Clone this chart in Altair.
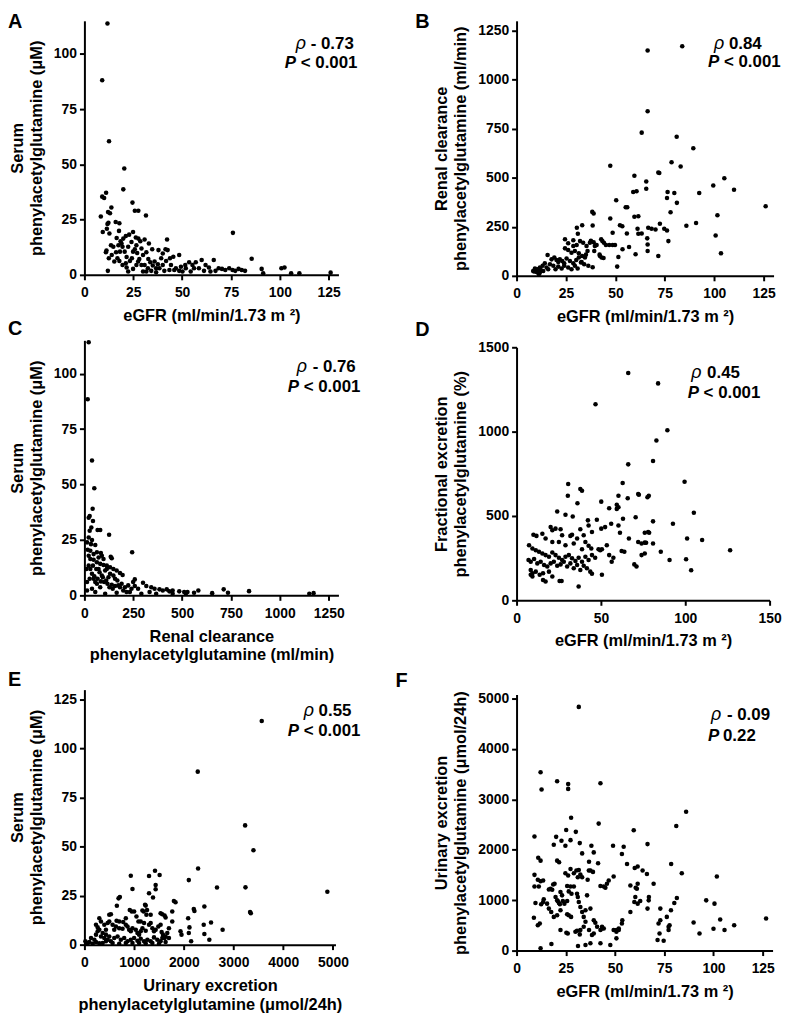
import altair as alt
import pandas as pd

FONT = "Liberation Sans"

# ---------------- Panel A: eGFR vs serum phenylacetylglutamine
A_EGFR = [11.8, 9.1, 12.6, 20.4, 19.9, 9.1, 10.1, 11.1, 24.6, 25.8, 27.6, 31.5, 13.8, 12.1, 13.1, 8.4, 12.3, 11.8, 16.0, 17.9,
          9.4, 12.8, 11.5, 17.7, 16.5, 18.5, 19.9, 21.2, 22.9, 24.9, 26.3, 27.6, 28.6, 30.8, 33.0, 34.7, 37.9, 42.3, 41.5, 42.6,
          11.0, 11.3, 13.6, 14.8, 16.2, 15.3, 17.9, 19.5, 20.6, 21.6, 23.3, 24.3, 24.9, 25.8, 27.0, 28.1, 29.2, 30.0, 31.7, 32.7,
          33.7, 35.0, 36.7, 38.4, 40.1, 41.8, 43.8, 45.5, 48.5, 12.0, 22.4, 24.9, 30.0, 36.7, 40.9, 43.5, 46.8, 49.4, 51.6, 53.6,
          55.3, 57.0, 58.6, 60.0, 62.0, 63.7, 66.2, 64.5, 68.7, 70.4, 72.1, 74.1, 75.8, 77.2, 78.9, 80.5, 82.2, 85.6, 90.7, 91.5,
          100.8, 102.4, 105.8, 110.0, 126.0, 76.0, 17.4, 19.0, 22.4, 24.1, 26.6, 29.2, 30.8, 32.5, 34.2, 35.9, 39.3, 40.1, 44.3, 46.0,
          50.2, 51.9, 54.4, 56.1, 61.2, 67.1, 16.9, 19.5, 21.2, 26.6, 27.5, 18.2, 14.0, 12.5, 21.6, 31.7, 37.6, 48.5]
A_SERUM = [113.8, 88.1, 60.5, 48.1, 38.7, 35.4, 34.8, 37.2, 32.7, 29.0, 29.0, 26.9, 30.5, 28.4, 27.9, 26.4, 23.6, 23.0, 23.9, 23.4,
           19.4, 18.7, 20.9, 19.9, 16.7, 15.2, 16.4, 17.6, 18.2, 19.4, 16.9, 16.4, 15.2, 16.0, 14.2, 11.6, 11.2, 16.0, 11.6, 11.2,
           10.2, 11.0, 13.4, 12.7, 10.2, 6.0, 6.3, 12.7, 10.5, 8.1, 6.3, 7.5, 10.5, 11.6, 9.9, 7.2, 4.5, 9.0, 10.2, 7.2,
           5.7, 4.2, 3.0, 3.0, 4.5, 6.3, 7.5, 8.2, 9.0, 1.8, 1.5, 2.7, 1.5, 1.2, 1.8, 2.2, 3.0, 3.7, 4.5, 5.7,
           4.5, 5.7, 3.0, 6.7, 4.5, 3.3, 6.7, 1.5, 3.0, 2.7, 2.2, 3.0, 2.2, 1.8, 2.7, 2.2, 1.8, 7.3, 2.7, 0.7,
           3.0, 3.3, 0.7, 0.7, 1.0, 19.0, 13.4, 14.2, 12.7, 14.9, 13.4, 11.9, 4.5, 3.0, 1.8, 6.0, 7.5, 9.7, 4.5, 2.2,
           1.5, 3.0, 1.5, 3.0, 1.8, 1.8, 7.5, 4.5, 5.2, 4.5, 6.0, 10.5, 9.0, 7.5, 3.3, 1.5, 4.8, 1.8]

# ---------------- Panel B: eGFR vs renal clearance
B_EGFR = [66.3, 83.8, 66.3, 63.3, 81.0, 89.4, 47.4, 78.4, 83.0, 71.7, 72.2, 59.6, 65.6, 65.6, 105.1, 99.5, 110.0, 92.4, 76.4, 79.8,
          59.0, 60.7, 76.1, 81.1, 50.4, 55.2, 56.0, 126.0, 77.9, 59.6, 61.6, 38.3, 39.0, 101.6, 47.4, 52.3, 53.5, 72.5, 85.9, 90.8,
          33.2, 38.5, 68.3, 70.3, 74.7, 76.1, 61.2, 66.6, 48.6, 55.8, 63.3, 61.6, 66.1, 66.3, 66.3, 76.8, 100.7, 103.4, 60.2, 71.7,
          50.9, 51.5, 53.6, 56.9, 45.2, 46.9, 48.6, 49.8, 42.8, 43.4, 44.2, 37.1, 37.6, 39.0, 39.6, 40.5, 39.3, 42.0, 42.2, 44.0,
          43.0, 35.9, 34.6, 36.3, 38.5, 30.5, 31.0, 28.7, 24.5, 26.1, 28.7, 30.4, 32.1, 33.7, 35.4, 24.5, 26.1, 27.8, 29.5, 31.5,
          33.2, 35.1, 15.7, 17.7, 19.1, 20.2, 21.1, 21.9, 23.1, 24.1, 25.3, 27.0, 28.7, 30.2, 31.5, 32.9, 34.2, 14.3, 13.2, 11.8,
          10.6, 9.3, 8.4, 10.1, 11.8, 13.5, 15.2, 16.0, 16.9, 18.6, 19.7, 21.1, 22.8, 24.1, 26.1, 27.8, 29.5, 30.9, 32.6, 8.9,
          11.3, 12.3]
B_CLEAR = [1149, 1170, 839, 730, 709, 650, 561, 579, 557, 527, 524, 510, 481, 444, 497, 461, 439, 422, 427, 422,
           427, 431, 397, 372, 385, 350, 350, 355, 324, 301, 304, 326, 318, 309, 292, 258, 253, 265, 255, 269,
           258, 257, 240, 236, 240, 231, 240, 245, 220, 216, 216, 215, 191, 160, 127, 177, 206, 115, 110, 101,
           47, 96, 135, 147, 157, 157, 157, 157, 186, 177, 169, 169, 179, 171, 152, 157, 127, 108, 101, 91,
           93, 127, 93, 51, 44, 245, 215, 181, 186, 166, 152, 157, 177, 169, 152, 140, 132, 118, 127, 115,
           101, 108, 106, 84, 93, 81, 71, 84, 76, 64, 88, 76, 64, 81, 93, 71, 59, 64, 51, 42,
           34, 37, 25, 20, 17, 25, 42, 34, 59, 51, 34, 47, 37, 51, 42, 34, 51, 37, 68, 22,
           8, 30]

# ---------------- Panel C: renal clearance vs serum phenylacetylglutamine
C_CLEAR = [21.9, 16.9, 38.8, 50.6, 42.1, 27.0, 21.9, 43.8, 35.4, 27.0, 67.4, 80.9, 126.4, 21.9, 38.8, 33.7, 55.6, 244.3, 13.5, 16.9,
           30.3, 47.2, 64.0, 84.3, 72.5, 89.3, 134.8, 139.9, 47.2, 64.0, 80.9, 97.7, 114.6, 131.4, 148.3, 165.1, 182.0, 195.5, 60.7, 77.5,
           30.3, 38.8, 50.6, 67.4, 84.3, 101.1, 118.0, 139.9, 156.7, 173.6, 190.4, 207.3, 224.1, 241.0, 257.8, 257.8, 274.7, 299.9, 316.8, 342.1,
           358.9, 384.2, 401.0, 421.3, 434.7, 451.6, 485.3, 510.6, 527.4, 561.1, 583.0, 653.8, 712.8, 734.7, 842.5, 1150.9, 1172.8, 13.5, 55.6, 106.2,
           165.1, 215.7, 291.5, 333.6, 367.3, 451.6, 519.0, 13.5, 27.0, 10.1, 21.9, 43.8, 55.6, 89.3, 123.0, 131.4, 156.7, 72.5, 106.2, 94.4,
           111.2, 128.1, 144.9, 80.9, 64.0, 38.8, 47.2, 30.3, 21.9, 97.7, 114.6, 148.3, 168.5, 182.0, 198.8, 232.5, 249.4]
C_SERUM = [114.1, 88.4, 60.8, 48.3, 39.1, 35.8, 35.0, 33.5, 30.6, 29.1, 29.5, 29.5, 27.3, 26.1, 25.0, 23.1, 22.7, 19.4, 23.9, 20.6,
           20.1, 18.6, 19.4, 19.1, 17.1, 17.9, 17.4, 16.7, 16.1, 14.9, 14.2, 13.7, 13.4, 12.7, 11.9, 11.2, 10.1, 9.2, 11.9, 10.4,
           11.9, 9.7, 8.6, 7.5, 6.3, 6.0, 5.2, 4.8, 4.2, 4.5, 5.2, 3.7, 4.5, 3.0, 7.2, 4.2, 3.0, 5.7, 4.2, 3.7,
           3.0, 2.7, 2.2, 2.7, 1.8, 2.2, 1.8, 1.5, 1.5, 1.2, 2.2, 1.0, 2.7, 1.2, 1.9, 0.7, 1.0, 2.2, 1.5, 0.7,
           1.2, 1.5, 0.7, 1.5, 0.7, 0.7, 0.7, 6.0, 7.5, 11.9, 13.4, 13.4, 6.0, 8.9, 8.2, 9.7, 7.5, 11.9, 11.2, 8.2,
           6.7, 3.7, 3.0, 3.7, 5.2, 3.0, 7.5, 16.4, 17.9, 16.4, 11.9, 8.9, 6.7, 3.7, 2.2, 1.5, 6.0]

# ---------------- Panel D: eGFR vs fractional excretion
D_EGFR = [66.2, 83.9, 46.8, 89.4, 82.9, 80.9, 66.2, 99.6, 62.9, 30.6, 37.8, 38.8, 72.1, 72.5, 60.4, 65.9, 77.6, 78.4, 30.4, 50.2,
          36.1, 54.9, 59.4, 59.4, 60.4, 24.1, 29.0, 33.3, 42.3, 47.6, 63.1, 70.6, 80.9, 92.7, 105.1, 60.4, 56.1, 52.5, 50.2, 61.3,
          66.6, 72.1, 74.1, 76.0, 78.0, 78.6, 76.0, 76.8, 15.3, 20.2, 21.2, 23.1, 26.1, 27.0, 31.9, 32.9, 35.9, 37.8, 39.8, 42.7,
          44.7, 48.6, 49.6, 50.6, 53.5, 54.9, 10.0, 11.8, 17.2, 21.2, 25.1, 29.0, 33.9, 40.8, 42.7, 44.3, 38.8, 7.4, 9.4, 11.4,
          13.3, 15.3, 17.2, 19.2, 21.2, 23.1, 25.1, 27.0, 29.0, 31.0, 32.9, 34.9, 36.8, 38.8, 40.8, 42.7, 44.7, 46.6, 7.1, 8.4,
          10.4, 12.3, 14.3, 16.3, 18.2, 20.2, 22.1, 24.1, 26.1, 28.0, 30.0, 31.9, 33.9, 35.9, 37.8, 39.8, 41.7, 43.7, 8.4, 9.4,
          11.4, 13.7, 15.7, 19.2, 21.2, 25.5, 26.7, 36.8, 44.7, 50.6, 56.4, 57.4, 62.3, 63.9, 69.8, 71.1, 85.5, 90.7, 101.1, 100.5,
          103.5, 110.0, 126.6, 74.1, 76.0, 80.9, 15.7, 17.2, 9.4, 8.4]
D_FE = [1348, 1286, 1162, 1008, 947, 826, 806, 703, 695, 689, 660, 650, 630, 626, 620, 605, 611, 620, 620, 585,
        575, 546, 566, 542, 552, 526, 507, 497, 474, 478, 483, 493, 468, 454, 519, 444, 454, 434, 425, 401,
        366, 346, 337, 401, 405, 401, 342, 341, 395, 434, 415, 425, 421, 386, 382, 389, 366, 421, 386, 444,
        405, 303, 297, 303, 327, 268, 389, 382, 366, 346, 346, 327, 337, 346, 323, 307, 303, 327, 307, 297,
        288, 278, 268, 258, 284, 268, 252, 239, 258, 268, 249, 233, 252, 229, 258, 239, 268, 252, 239, 229,
        245, 219, 229, 209, 200, 219, 229, 205, 213, 229, 200, 219, 190, 209, 180, 205, 190, 170, 180, 160,
        170, 151, 160, 170, 141, 115, 115, 82, 157, 151, 229, 252, 292, 288, 213, 200, 288, 239, 366, 243,
        178, 358, 297, 268, 278, 337, 121, 112, 141, 151]

# ---------------- Panel E: urinary excretion vs serum phenylacetylglutamine
E_URINE = [2280, 3233, 3400, 2287, 3240, 2667, 2100, 3333, 3347, 2780, 2547, 2413, 2200, 2213, 2400, 2413, 2513, 2147, 2087, 2113,
           2100, 1933, 1953, 1800, 1833, 1767, 1767, 1700, 1700, 1420, 1513, 1300, 933, 967, 1433, 1433, 1300, 1380, 687, 713,
           653, 500, 533, 913, 953, 1220, 1233, 1167, 1193, 1260, 1533, 1567, 1613, 1633, 1000, 1047, 467, 500, 567, 633,
           700, 767, 833, 867, 900, 933, 967, 1033, 1067, 1100, 1133, 1167, 1233, 1300, 1333, 1367, 1400, 1433, 1487, 1533,
           1553, 1580, 1633, 1667, 1613, 133, 200, 233, 267, 300, 333, 367, 400, 433, 467, 500, 533, 600, 667, 733,
           800, 867, 933, 1000, 1067, 1133, 1200, 1267, 1333, 1400, 1467, 1533, 1567, 67, 20, 47, 100, 167, 233, 300,
           367, 433, 567, 700, 833, 967, 1100, 1233, 1367, 1500, 1633, 300, 333, 400, 267, 233, 433, 600, 647, 700,
           780, 833, 1087, 1133, 1200, 1247, 1333, 3567, 4887]
E_SERUM = [88.2, 60.8, 48.1, 38.8, 29.2, 29.1, 32.9, 16.6, 16.0, 7.6, 11.3, 19.4, 18.2, 17.2, 10.1, 5.4, 2.5, 1.7, 13.5, 8.8,
           5.9, 6.8, 5.1, 22.3, 21.6, 16.9, 11.8, 8.4, 3.4, 37.7, 35.5, 35.0, 35.1, 28.4, 30.4, 28.2, 26.2, 24.0, 23.6, 24.3,
           19.8, 15.2, 15.5, 17.7, 16.9, 20.3, 19.9, 17.4, 16.9, 17.6, 16.0, 15.5, 14.9, 13.8, 16.9, 14.4, 11.0, 11.8, 10.1, 9.3,
           8.4, 8.1, 10.1, 9.3, 7.6, 6.8, 8.4, 7.6, 5.9, 5.1, 6.8, 8.4, 7.1, 10.1, 11.0, 8.4, 6.8, 7.6, 9.3, 10.1,
           6.4, 5.1, 4.2, 5.9, 3.4, 3.4, 2.5, 5.1, 6.8, 7.6, 4.2, 5.9, 3.4, 5.1, 2.5, 4.2, 1.7, 3.4, 4.2, 2.5,
           3.4, 1.7, 2.5, 3.4, 2.0, 3.0, 1.7, 2.5, 1.7, 3.7, 2.5, 1.7, 3.4, 0.8, 1.7, 0.5, 1.4, 0.5, 1.4, 0.7,
           0.8, 1.7, 0.8, 0.5, 0.8, 0.8, 0.8, 0.7, 0.8, 0.5, 1.4, 13.5, 11.8, 10.1, 8.8, 10.1, 7.6, 7.6, 12.2, 11.8,
           11.5, 13.5, 11.8, 11.8, 11.0, 15.2, 15.2, 114.0, 27.0]

# ---------------- Panel F: eGFR vs urinary excretion
F_EGFR = [31.6, 12.2, 12.7, 20.6, 26.2, 26.2, 42.6, 27.7, 9.1, 20.1, 25.2, 30.1, 27.4, 22.8, 18.9, 24.8, 32.1, 33.3, 38.0, 39.2,
          11.0, 12.2, 20.6, 21.6, 41.7, 41.4, 36.8, 49.0, 54.4, 53.5, 56.1, 59.5, 66.5, 81.1, 86.1, 78.5, 83.9, 101.7, 60.0, 61.5,
          64.0, 66.2, 9.1, 10.8, 12.2, 13.5, 9.1, 11.3, 16.4, 17.2, 18.1, 18.6, 19.3, 24.8, 26.2, 27.4, 29.1, 30.4, 31.6, 32.4,
          33.3, 31.1, 36.7, 36.1, 35.8, 37.5, 38.8, 25.7, 27.4, 29.1, 26.5, 27.9, 22.3, 23.1, 23.5, 22.0, 24.3, 25.7, 19.8, 20.6,
          20.9, 21.5, 13.8, 15.5, 16.4, 17.6, 18.9, 20.6, 22.3, 9.6, 8.8, 10.8, 11.8, 12.5, 13.5, 30.7, 31.1, 31.6, 32.4, 33.3,
          34.1, 35.0, 39.2, 40.0, 40.9, 42.6, 43.4, 44.3, 49.3, 50.7, 53.5, 57.8, 42.6, 44.3, 45.1, 45.9, 46.8, 49.3, 35.0, 37.5,
          57.8, 60.5, 61.1, 61.5, 59.8, 60.3, 61.5, 62.8, 67.1, 67.2, 66.5, 69.6, 73.0, 72.1, 73.0, 76.3, 77.2, 78.4, 80.1, 81.4,
          77.2, 77.7, 25.7, 26.5, 27.7, 30.7, 29.9, 32.4, 34.1, 35.0, 37.5, 38.3, 39.2, 42.6, 43.4, 47.6, 50.7, 51.9, 53.7, 12.2,
          17.7, 22.3, 25.3, 26.0, 32.1, 36.8, 71.6, 72.6, 74.7, 89.9, 92.9, 100.0, 103.4, 105.6, 110.5, 96.3, 100.5, 126.7, 50.7, 51.9,
          31.2]
F_URINE = [4836, 3537, 3196, 3360, 3307, 3209, 3320, 2638, 2264, 2257, 2395, 2356, 2192, 2178, 2100, 2080, 2133, 1929, 2080, 1949,
           1844, 1785, 1785, 1752, 2520, 1732, 1765, 2080, 2060, 1916, 1719, 2389, 2113, 2474, 2756, 1719, 1536, 1470, 1641, 1667,
           1588, 1522, 1503, 1404, 1378, 1391, 1273, 1273, 1214, 1227, 1207, 1312, 1326, 1536, 1490, 1621, 1536, 1588, 1601, 1509,
           1457, 1457, 1588, 1404, 1096, 1588, 1562, 1280, 1273, 1273, 1175, 1129, 1161, 1096, 984, 919, 932, 984, 1063, 997,
           984, 945, 1017, 932, 833, 768, 669, 702, 801, 945, 650, 505, 538, 919, 965, 1129, 1063, 965, 866, 768,
           669, 571, 604, 551, 472, 407, 440, 440, 407, 374, 538, 768, 1280, 1273, 1247, 1326, 1391, 1470, 801, 833,
           1293, 1247, 1227, 1326, 965, 1063, 932, 984, 997, 1063, 833, 1326, 833, 538, 604, 669, 472, 801, 945, 1043,
           407, 505, 722, 702, 669, 394, 374, 407, 472, 112, 144, 308, 341, 144, 472, 112, 407, 440, 604, 46,
           131, 407, 354, 341, 322, 407, 210, 341, 197, 558, 341, 433, 617, 407, 505, 997, 932, 637, 243, 407,
           92]

EGFR_TITLE = "eGFR (ml/min/1.73 m ²)"
ONE = pd.DataFrame({"k": [0]})


def scatter(xs, ys, xdom, ydom, xticks, yticks, xtitle, ytitle, w, h):
    df = pd.DataFrame(list(zip(xs, ys)), columns=["x", "y"])
    return alt.Chart(df).mark_circle(size=21, color="black", opacity=1).encode(
        x=alt.X("x:Q", scale=alt.Scale(domain=xdom, nice=False, zero=False),
                axis=alt.Axis(values=xticks, title=xtitle, format="d")),
        y=alt.Y("y:Q", scale=alt.Scale(domain=ydom, nice=False, zero=False),
                axis=alt.Axis(values=yticks, title=ytitle, format="d")),
    ).properties(width=w, height=h)


def txt(s, x, y, size=17, weight="bold", style="normal", opacity=1):
    return alt.Chart(ONE).mark_text(
        text=s, align="left", baseline="alphabetic", font=FONT, fontSize=size,
        fontWeight=weight, fontStyle=style, color="black", opacity=opacity
    ).encode(x=alt.value(x), y=alt.value(y))


def spacer(x):
    return alt.Chart(ONE).mark_rule(opacity=0, strokeWidth=1).encode(
        x=alt.value(x), y=alt.value(0), y2=alt.value(1))


def stats(rho_x, val_x, rho_y, rho_val, p_x, rest_x, p_y, rest):
    return [txt("ρ", rho_x, rho_y, 18, "normal", "italic"),
            txt(rho_val, val_x, rho_y),
            txt("P", p_x, p_y, 17, "bold", "italic"),
            txt(rest, rest_x, p_y)]


SERUM_T = ["Serum", "phenylacetylglutamine (μM)"]

pA = alt.layer(
    scatter(A_EGFR, A_SERUM, [0, 130], [0, 115], [0, 25, 50, 75, 100, 125], [0, 25, 50, 75, 100],
            EGFR_TITLE, SERUM_T, 256, 256),
    *stats(213, 228, 28, "- 0.73", 202, 218, 48, "< 0.001"),
    txt("A", -77, 7, 20), txt("C", -77, 317, 20), spacer(296))

pC = alt.layer(
    scatter(C_CLEAR, C_SERUM, [0, 1300], [0, 115], [0, 250, 500, 750, 1000, 1250], [0, 25, 50, 75, 100],
            ["Renal clearance", "phenylacetylglutamine (ml/min)"], SERUM_T, 256, 257),
    *stats(214, 230, 32, "- 0.76", 205, 221, 52, "< 0.001"),
    txt("E", -77, 348, 20))

pE = alt.layer(
    scatter(E_URINE, E_SERUM, [0, 5050], [0, 130], [0, 1000, 2000, 3000, 4000, 5000], [0, 25, 50, 75, 100, 125],
            ["Urinary excretion", "phenylacetylglutamine (μmol/24h)"], SERUM_T, 253, 257),
    *stats(221, 236, 27, "0.55", 205, 221, 47, "< 0.001"),
    spacer(-77))

pB = alt.layer(
    scatter(B_EGFR, B_CLEAR, [0, 130], [0, 1300], [0, 25, 50, 75, 100, 125], [0, 250, 500, 750, 1000, 1250],
            EGFR_TITLE, ["Renal clearance", "phenylacetylglutamine (ml/min)"], 259, 257),
    *stats(199, 214, 28, "0.84", 193, 209, 47, "< 0.001"),
    txt("B", -102, 7, 20), txt("D", -102, 318, 20))

pD = alt.layer(
    scatter(D_EGFR, D_FE, [0, 150], [0, 1500], [0, 50, 100, 150], [0, 500, 1000, 1500],
            EGFR_TITLE, ["Fractional excretion", "phenylacetylglutamine (%)"], 255, 255),
    *stats(176, 192, 31, "0.45", 172.5, 188.5, 51, "< 0.001"),
    txt("F", -122, 342, 20))

pF = alt.layer(
    scatter(F_EGFR, F_URINE, [0, 130], [0, 5080], [0, 25, 50, 75, 100, 125], [0, 1000, 2000, 3000, 4000, 5000],
            EGFR_TITLE, ["Urinary excretion", "phenylacetylglutamine (μmol/24h)"], 258, 258),
    *stats(196, 212, 26, "- 0.09", 193, 208, 47, "0.22"),
    spacer(-103))

col1 = alt.vconcat(pA, pC, pE, spacing=0)
col2 = alt.vconcat(pB, pD, pF, spacing=0)

chart = alt.hconcat(col1, col2, spacing=17.5).properties(
    padding=0
).configure_view(stroke=None).configure_axis(
    grid=False, domainColor="black", domainWidth=2, tickColor="black", tickWidth=2, tickSize=5,
    labelFont=FONT, labelFontSize=14, labelFontWeight="bold", labelColor="black",
    labelFlush=False, labelOverlap=False,
    titleFont=FONT, titleFontSize=16.5, titleFontWeight="bold", titleColor="black"
).configure_axisX(labelPadding=6, titlePadding=8, titleLineHeight=19
).configure_axisY(labelPadding=3, titlePadding=9, titleLineHeight=19)

chart.save("out.html", embed_options={"renderer": "svg", "actions": False})
